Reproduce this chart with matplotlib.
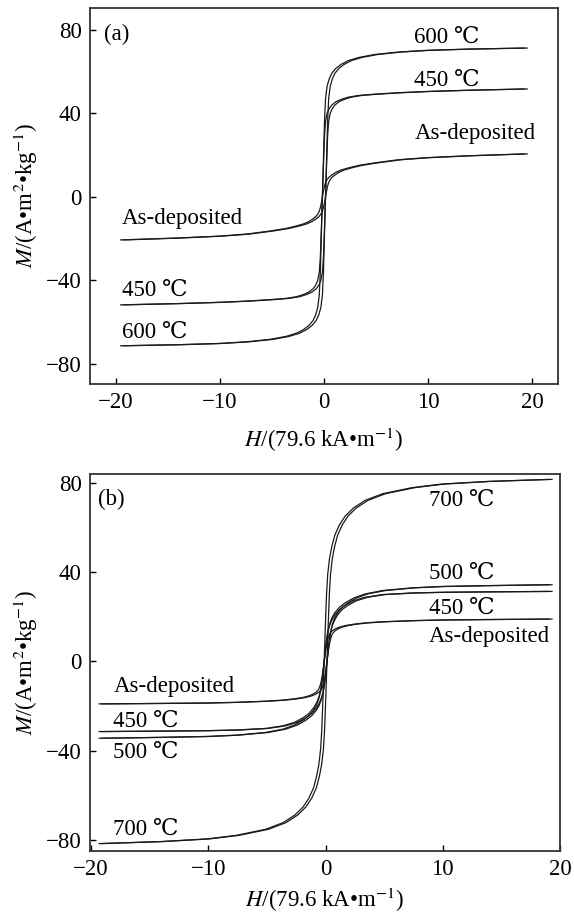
import numpy as np
import matplotlib
matplotlib.use('Agg')
import matplotlib.pyplot as plt

plt.rcParams['font.family'] = ['Liberation Serif', 'DejaVu Serif']
plt.rcParams['mathtext.fontset'] = 'stix'
plt.rcParams['font.size'] = 16.5

# half loops (H >= 0); the other half is the point mirror
h_a = [0, 0.1, 0.2, 0.3, 0.45, 0.65, 0.9, 1.3, 1.8, 2.5, 3.5, 5, 7.3, 10, 14, 19.4]
m_a_600 = [0, 18, 36, 47, 53, 56.5, 59.2, 61.6, 63.5, 65.3, 66.8, 68.2, 69.4, 70.2, 70.8, 71.3]
m_a_450 = [0, 15, 29, 36, 40, 42.3, 44, 45.6, 46.7, 47.8, 48.6, 49.2, 49.9, 50.5, 51.1, 51.7]
m_a_dep = [0, 2.8, 5.2, 6.8, 8.3, 9.5, 10.5, 11.8, 12.9, 13.9, 15.1, 16.3, 17.8, 18.8, 19.7, 20.6]

h_b = [0, 0.1, 0.2, 0.3, 0.45, 0.65, 0.9, 1.3, 1.8, 2.5, 3.5, 5, 7.5, 10, 14, 19.2]
m_b_700 = [0, 16, 30, 39, 46, 51.5, 56.5, 61.2, 65.2, 68.8, 72.2, 75.2, 77.9, 79.5, 80.7, 81.6]
m_b_500 = [0, 5, 9.5, 13, 16.5, 19.5, 21.8, 24.3, 26.3, 28.4, 30.3, 31.8, 33, 33.6, 34, 34.4]
m_b_450 = [0, 5, 9.5, 13, 16, 18.5, 20.8, 23.3, 25.2, 27.2, 28.8, 30, 30.7, 31, 31.2, 31.4]
m_b_dep = [0, 4, 7.5, 10, 12.3, 13.6, 14.5, 15.4, 16.1, 16.7, 17.3, 17.8, 18.3, 18.6, 18.8, 19]

coercivity_a = 0.15
coercivity_b = 0.12

# labels: (text, H, M) for both panels
labels_a = [('(a)', -21.2, 77.6), ('600 ℃', 8.7, 76.6), ('450 ℃', 8.7, 56),
            ('As-deposited', 8.7, 30.2), ('As-deposited', -19.4, -10.5),
            ('450 ℃', -19.4, -44.6), ('600 ℃', -19.4, -65)]
labels_b = [('(b)', -19.4, 72.4), ('700 ℃', 8.8, 72.4), ('500 ℃', 8.8, 39.7),
            ('450 ℃', 8.8, 24), ('As-deposited', 8.8, 11), ('As-deposited', -18.1, -11.4),
            ('450 ℃', -18.1, -27), ('500 ℃', -18.1, -40.5), ('700 ℃', -18.1, -75)]


def draw_loop(ax, h, m, hc):
    h = np.array(h)
    m = np.array(m)
    hf = np.concatenate([-h[::-1], h[1:]])
    mf = np.concatenate([-m[::-1], m[1:]])
    ax.plot(hf - hc, mf, color='#1a1a1a', lw=0.9)
    ax.plot(hf + hc, mf, color='#1a1a1a', lw=0.9)


def style(ax, xlim, ylim, xticks, yticks, labels, xpad):
    ax.set_xlim(*xlim)
    ax.set_ylim(*ylim)
    ax.set_xticks(xticks)
    ax.set_yticks(yticks)
    ax.tick_params(direction='in', length=4, width=1.0, pad=6, labelsize=16.5)
    for s in ax.spines.values():
        s.set_linewidth(1.3)
        s.set_color('#333333')
    ax.set_xlabel('$H$/(79.6 kA•m$^{-1}$)', labelpad=xpad)
    ax.set_ylabel('$M$/(A•m$^2$•kg$^{-1}$)', labelpad=4)
    for t, x, y in labels:
        ax.text(x, y, t, ha='left', va='center', fontsize=16.5)


fig = plt.figure(figsize=(5.74, 9.16), dpi=100)
ax_a = fig.add_axes([0.1568, 0.5808, 0.8152, 0.4105])
ax_b = fig.add_axes([0.1568, 0.0710, 0.8188, 0.4115])

for m in (m_a_600, m_a_450, m_a_dep):
    draw_loop(ax_a, h_a, m, coercivity_a)
style(ax_a, (-22.5, 22.5), (-89.6, 90.5), [-20, -10, 0, 10, 20], [-80, -40, 0, 40, 80], labels_a, 9)

for m in (m_b_700, m_b_500, m_b_450, m_b_dep):
    draw_loop(ax_b, h_b, m, coercivity_b)
style(ax_b, (-20.1, 19.8), (-84.9, 84.0), [-20, -10, 0, 10, 20], [-80, -40, 0, 40, 80], labels_b, 4)

fig.savefig('out.png', dpi=100)
